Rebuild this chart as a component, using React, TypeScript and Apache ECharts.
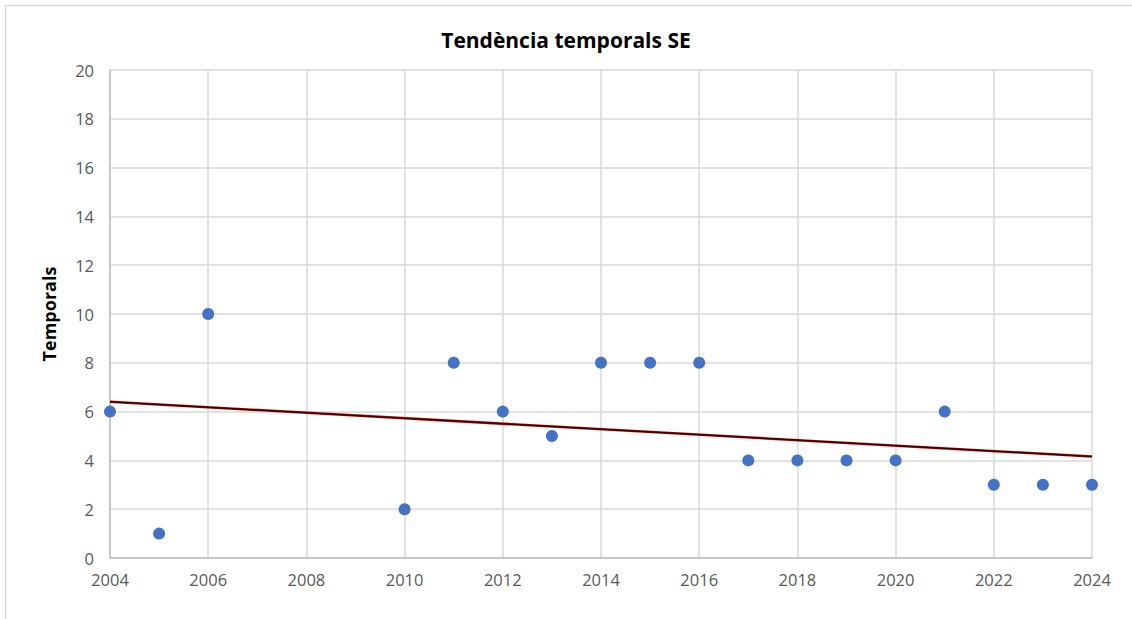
import React, { useEffect, useRef } from "react";
import * as echarts from "echarts";

const years = [2004, 2005, 2006, 2010, 2011, 2012, 2013, 2014, 2015, 2016, 2017, 2018, 2019, 2020, 2021, 2022, 2023, 2024];
const temporals = [6, 1, 10, 2, 8, 6, 5, 8, 8, 8, 4, 4, 4, 4, 6, 3, 3, 3];
const title = "Tendència temporals SE";
const yName = "Temporals";

function trend(xs: number[], ys: number[]) {
  const n = xs.length;
  const mx = xs.reduce((a, b) => a + b, 0) / n;
  const my = ys.reduce((a, b) => a + b, 0) / n;
  let sxy = 0, sxx = 0;
  for (let i = 0; i < n; i++) {
    sxy += (xs[i] - mx) * (ys[i] - my);
    sxx += (xs[i] - mx) * (xs[i] - mx);
  }
  const slope = sxy / sxx;
  const x0 = Math.min(...xs), x1 = Math.max(...xs);
  return [[x0, my + slope * (x0 - mx)], [x1, my + slope * (x1 - mx)]];
}

export default function App() {
  const ref = useRef<HTMLDivElement>(null);
  useEffect(() => {
    if (!ref.current) return;
    const chart = echarts.init(ref.current, null, { renderer: "svg" });
    const font = "'Open Sans', 'Noto Sans', sans-serif";
    const t = trend(years, temporals);
    chart.setOption({
      animation: false,
      backgroundColor: "#ffffff",
      textStyle: { fontFamily: font },
      title: {
        text: title,
        left: "center",
        top: 24,
        textStyle: { fontSize: 21, fontWeight: "bold", color: "#000000", fontFamily: font },
      },
      graphic: [
        { type: "line", shape: { x1: 5.5, y1: 5.5, x2: 1132, y2: 5.5 }, style: { stroke: "#d9d9d9", lineWidth: 1.5 } },
        { type: "line", shape: { x1: 5.5, y1: 5.5, x2: 5.5, y2: 619 }, style: { stroke: "#d9d9d9", lineWidth: 1.5 } },
      ],
      grid: { left: 110, right: 40, top: 70, bottom: 61 },
      xAxis: {
        type: "value",
        min: 2004,
        max: 2024,
        interval: 2,
        axisLine: { show: true, lineStyle: { color: "#bfbfbf", width: 1.5 } },
        axisTick: { show: false },
        splitLine: { show: true, lineStyle: { color: "#d9d9d9", width: 1.5 } },
        axisLabel: { color: "#595959", fontSize: 16.5, margin: 13, formatter: (v: number) => String(v) },
      },
      yAxis: {
        type: "value",
        min: 0,
        max: 20,
        interval: 2,
        name: yName,
        nameLocation: "middle",
        nameGap: 52,
        nameRotate: 90,
        nameTextStyle: { fontSize: 18, fontWeight: "bold", color: "#000000", fontFamily: font },
        axisLine: { show: true, lineStyle: { color: "#bfbfbf", width: 1.5 } },
        axisTick: { show: false },
        splitLine: { show: true, lineStyle: { color: "#d9d9d9", width: 1.5 } },
        axisLabel: { color: "#595959", fontSize: 16.5, margin: 16 },
      },
      series: [
        {
          type: "line",
          data: t,
          symbol: "none",
          lineStyle: { color: "#c00000", width: 2.5 },
          z: 3,
        },
        {
          type: "line",
          data: t,
          symbol: "none",
          lineStyle: { color: "#000000", width: 1 },
          z: 4,
        },
        {
          type: "scatter",
          data: years.map((y, i) => [y, temporals[i]]),
          symbol: "circle",
          symbolSize: 12,
          itemStyle: { color: "#4472c4", opacity: 1 },
          z: 5,
        },
      ],
    });
    return () => chart.dispose();
  }, []);
  return (
    <div
      ref={ref}
      style={{ position: "fixed", left: 0, top: 0, width: 1132, height: 619, background: "#fff" }}
    />
  );
}
